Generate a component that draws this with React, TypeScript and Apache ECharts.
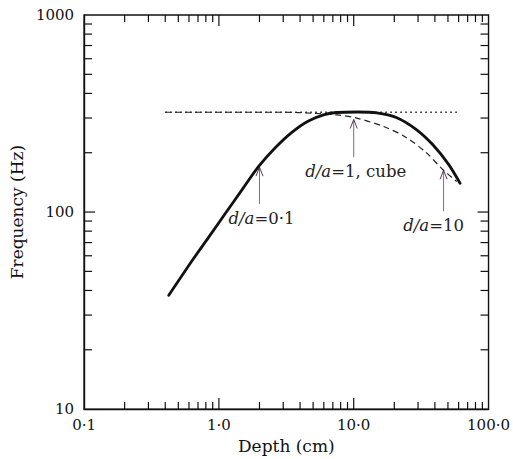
import { useEffect, useRef } from 'react';
import * as echarts from 'echarts';

// Axis decades and their printed labels
const depthTicks = [0.1, 1, 10, 100];
const depthTickLabels = ['0·1', '1·0', '10·0', '100·0'];
const freqTicks = [10, 100, 1000];
const freqTickLabels = ['10', '100', '1000'];

// Intermediate (minor) log ticks
const depthMinorTicks = [0.2, 0.3, 0.4, 0.5, 0.6, 0.7, 0.8, 0.9, 2, 3, 4, 5, 6, 7, 8, 9, 20, 30, 40, 50, 60, 70, 80, 90];
const depthMajorTicks = [1, 10];
const freqMinorTicks = [20, 30, 40, 50, 60, 70, 80, 90, 200, 300, 400, 500, 600, 700, 800, 900];
const freqMajorTicks = [100];

// Solid curve
const solidDepth = [0.425, 0.647, 0.856, 1.132, 1.496, 1.979, 2.618, 3.459, 4.577, 6.057, 7.5, 10.6, 14.8, 20.7, 29, 38.5, 50.4, 61.5];
const solidFreq = [37.8, 57.9, 75.9, 99.7, 130.7, 171, 212, 253, 289, 312, 320, 322, 319, 302, 263, 220, 175, 140];

// Dashed curve
const dashedDepth = [0.4, 3, 5, 7.5, 10.1, 16.6, 24.5, 34.3, 45.5, 58];
const dashedFreq = [321, 321, 317, 311, 302, 272, 239, 201, 165, 143];

// Dotted horizontal limit
const dottedDepth = [0.4, 60];
const dottedFreq = [321, 321];

// Annotation arrows: depth, tip frequency, tail frequency
const arrowDepth = [2.0, 10, 46.4];
const arrowTipFreq = [169, 295, 163];
const arrowTailFreq = [110, 190, 101];
const arrowLabels = ['{i|d/a}=0·1', '{i|d/a}=1, cube', '{i|d/a}=10'];
const arrowLabelShift = [2, 2, -10];

const FONT = '"DejaVu Serif", "Liberation Serif", serif';
const ARROW_COLOR = '#9a5a98';

const pick = (ticks: number[], labels: string[]) => (v: number) => {
  const i = ticks.findIndex((t) => Math.abs(Math.log10(t) - Math.log10(v)) < 1e-6);
  return i >= 0 ? labels[i] : '';
};

export default function App() {
  const ref = useRef<HTMLDivElement>(null);

  useEffect(() => {
    document.body.style.margin = '0';
    if (!ref.current) return;
    const chart = echarts.init(ref.current, undefined, { renderer: 'svg' });

    const xTickData = [
      ...depthMinorTicks.map((v) => [v, 10, 7]),
      ...depthMajorTicks.map((v) => [v, 10, 11]),
    ];
    const yTickData = [
      ...freqMinorTicks.map((v) => [0.1, v, 8]),
      ...freqMajorTicks.map((v) => [0.1, v, 11]),
    ];

    chart.setOption({
      animation: false,
      backgroundColor: '#fff',
      grid: {
        left: 82,
        top: 15,
        right: 19,
        bottom: 48,
        show: true,
        borderColor: '#111',
        borderWidth: 1.4,
        containLabel: false,
      },
      xAxis: {
        type: 'log',
        logBase: 10,
        min: 0.1,
        max: 100,
        name: 'Depth (cm)',
        nameLocation: 'middle',
        nameGap: 25,
        nameTextStyle: { fontFamily: FONT, fontSize: 17, color: '#111' },
        axisLine: { show: true, lineStyle: { color: '#111', width: 1.4 } },
        axisTick: { show: false },
        splitLine: { show: false },
        axisLabel: {
          formatter: pick(depthTicks, depthTickLabels),
          fontFamily: FONT,
          fontSize: 15,
          color: '#111',
          margin: 8,
          showMinLabel: true,
          showMaxLabel: true,
        },
      },
      yAxis: {
        type: 'log',
        logBase: 10,
        min: 10,
        max: 1000,
        name: 'Frequency (Hz)',
        nameLocation: 'middle',
        nameGap: 50,
        nameTextStyle: { fontFamily: FONT, fontSize: 17, color: '#111' },
        axisLine: { show: true, lineStyle: { color: '#111', width: 1.4 } },
        axisTick: { show: false },
        splitLine: { show: false },
        axisLabel: {
          formatter: pick(freqTicks, freqTickLabels),
          fontFamily: FONT,
          fontSize: 15,
          color: '#111',
          margin: 10,
          showMinLabel: true,
          showMaxLabel: true,
        },
      },
      series: [
        {
          type: 'custom',
          name: 'depth ticks',
          silent: true,
          data: xTickData,
          renderItem: (_p: any, api: any) => {
            const v = api.value(0);
            const len = api.value(2);
            const b = api.coord([v, 10]);
            const t = api.coord([v, 1000]);
            const style = { stroke: '#111', lineWidth: 1.2 };
            return {
              type: 'group',
              children: [
                { type: 'line', shape: { x1: b[0], y1: b[1], x2: b[0], y2: b[1] - len }, style },
                { type: 'line', shape: { x1: t[0], y1: t[1], x2: t[0], y2: t[1] + len }, style },
              ],
            };
          },
        },
        {
          type: 'custom',
          name: 'freq ticks',
          silent: true,
          data: yTickData,
          renderItem: (_p: any, api: any) => {
            const v = api.value(1);
            const len = api.value(2);
            const l = api.coord([0.1, v]);
            const r = api.coord([100, v]);
            const style = { stroke: '#111', lineWidth: 1.2 };
            return {
              type: 'group',
              children: [
                { type: 'line', shape: { x1: l[0], y1: l[1], x2: l[0] + len, y2: l[1] }, style },
                { type: 'line', shape: { x1: r[0], y1: r[1], x2: r[0] - len, y2: r[1] }, style },
              ],
            };
          },
        },
        {
          type: 'line',
          name: 'limit',
          data: dottedDepth.map((d, i) => [d, dottedFreq[i]]),
          showSymbol: false,
          lineStyle: { color: '#222', width: 1.6, type: [1.6, 3.4] },
        },
        {
          type: 'line',
          name: 'dashed',
          data: dashedDepth.map((d, i) => [d, dashedFreq[i]]),
          showSymbol: false,
          smooth: 0.3,
          lineStyle: { color: '#222', width: 1.2, type: [6, 4] },
        },
        {
          type: 'line',
          name: 'solid',
          data: solidDepth.map((d, i) => [d, solidFreq[i]]),
          showSymbol: false,
          smooth: 0.3,
          lineStyle: { color: '#111', width: 2.8, cap: 'round' },
        },
        {
          type: 'custom',
          name: 'arrows',
          silent: true,
          data: arrowDepth.map((d, i) => [d, arrowTipFreq[i], arrowTailFreq[i]]),
          renderItem: (p: any, api: any) => {
            const x = api.value(0);
            const tip = api.coord([x, api.value(1)]);
            const tail = api.coord([x, api.value(2)]);
            const i = p.dataIndex;
            return {
              type: 'group',
              children: [
                {
                  type: 'line',
                  shape: { x1: tail[0], y1: tail[1], x2: tip[0], y2: tip[1] },
                  style: { stroke: ARROW_COLOR, lineWidth: 1 },
                },
                {
                  type: 'polyline',
                  shape: {
                    points: [
                      [tip[0] - 3.5, tip[1] + 9],
                      [tip[0], tip[1]],
                      [tip[0] + 3.5, tip[1] + 9],
                    ],
                  },
                  style: { stroke: '#5a3a5a', fill: null, lineWidth: 1 },
                },
                {
                  type: 'text',
                  x: tail[0] + arrowLabelShift[i],
                  y: tail[1] + 6,
                  style: {
                    text: arrowLabels[i],
                    fill: '#222',
                    fontFamily: FONT,
                    fontSize: 16.5,
                    align: 'center',
                    verticalAlign: 'top',
                    rich: {
                      i: { fontStyle: 'italic', fontFamily: FONT, fontSize: 16.5, fill: '#222' },
                    },
                  },
                },
              ],
            };
          },
        },
      ],
    });

    return () => chart.dispose();
  }, []);

  return <div ref={ref} style={{ width: 513, height: 459 }} />;
}
